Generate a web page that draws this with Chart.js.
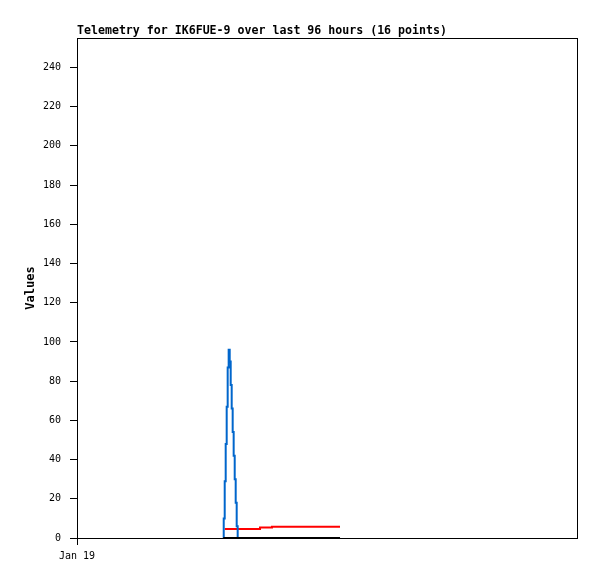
<!DOCTYPE html>
<html>
<head>
<meta charset="utf-8">
<script src="https://cdn.jsdelivr.net/npm/chart.js@4/dist/chart.umd.min.js"></script>
<style>
  body { margin: 0; background: #fff; }
  canvas { display: block; }
</style>
</head>
<body>
<canvas id="telemetry" width="597" height="579"></canvas>
<script>
// hours since Jan 19 00:00
const times = [28.09, 28.17, 28.36, 28.55, 28.74, 28.93, 29.12, 29.32, 29.51, 29.70,
               29.89, 30.08, 30.28, 30.47, 30.66, 30.85, 35.14, 37.44, 50.50];
const blueValues = [0, 10, 29, 48, 67, 87, 96, 90, 78, 66, 54, 42, 30, 18, 6, 0, 0, 0, 0];
const redValues = [null, null, 4.6, 4.6, 4.6, 4.6, 4.6, 4.6, 4.6, 4.6,
                   4.6, 4.6, 4.6, 4.6, 4.6, 4.6, 5.3, 5.8, 5.8];
const blackValues = [0, 0, 0, 0, 0, 0, 0, 0, 0, 0, 0, 0, 0, 0, 0, 0, 0, 0, 0];
const xTickValues = [0];
const xTickLabels = ['Jan 19'];
const yMax = 255;
const yStep = 20;
const titleText = 'Telemetry for IK6FUE-9 over last 96 hours (16 points)';

const mono = 'DejaVu Sans Mono';
const toPoints = vals => times.map((t, i) => ({ x: t, y: vals[i] }));

// frame around the plot + title at the plot's left edge
const framePlugin = {
  id: 'frame',
  afterDraw(chart) {
    const { ctx, chartArea: a } = chart;
    ctx.save();
    ctx.strokeStyle = '#000';
    ctx.lineWidth = 1;
    ctx.strokeRect(a.left + 0.5, a.top + 0.5, a.right - a.left, a.bottom - a.top);
    ctx.fillStyle = '#000';
    ctx.font = 'bold 11.6px "' + mono + '"';
    ctx.textBaseline = 'alphabetic';
    ctx.fillText(titleText, a.left, 34);
    ctx.restore();
  }
};

new Chart(document.getElementById('telemetry'), {
  type: 'line',
  data: {
    datasets: [
      { data: toPoints(blackValues), borderColor: '#000000', borderWidth: 2, stepped: true },
      { data: toPoints(blueValues), borderColor: '#0066cc', borderWidth: 2, stepped: true },
      { data: toPoints(redValues), borderColor: '#ff0000', borderWidth: 2, stepped: true }
    ]
  },
  options: {
    responsive: false,
    animation: false,
    devicePixelRatio: 1,
    pointRadius: 0,
    layout: { padding: { top: 38, right: 20, left: 0, bottom: 0 } },
    plugins: { legend: { display: false }, tooltip: { enabled: false } },
    scales: {
      x: {
        type: 'linear',
        min: 0,
        max: 96,
        afterBuildTicks: scale => { scale.ticks = xTickValues.map(v => ({ value: v })); },
        afterFit: scale => { scale.height = 41; },
        ticks: {
          color: '#000',
          font: { family: mono, size: 10 },
          padding: 5,
          maxRotation: 0,
          callback: (v) => xTickLabels[xTickValues.indexOf(v)]
        },
        grid: { drawOnChartArea: false, color: '#000', tickLength: 7 },
        border: { color: '#000' }
      },
      y: {
        min: 0,
        max: yMax,
        afterBuildTicks: scale => { scale.ticks = scale.ticks.filter(t => t.value % yStep === 0); },
        afterFit: scale => { scale.width = 77; },
        ticks: {
          stepSize: yStep,
          color: '#000',
          font: { family: mono, size: 10 },
          padding: 9
        },
        grid: { drawOnChartArea: false, color: '#000', tickLength: 7 },
        border: { color: '#000' },
        title: {
          display: true,
          text: 'Values',
          color: '#000',
          font: { family: mono, size: 12, weight: 'bold' },
          padding: { top: 24, bottom: 0 }
        }
      }
    }
  },
  plugins: [framePlugin]
});
</script>
</body>
</html>
